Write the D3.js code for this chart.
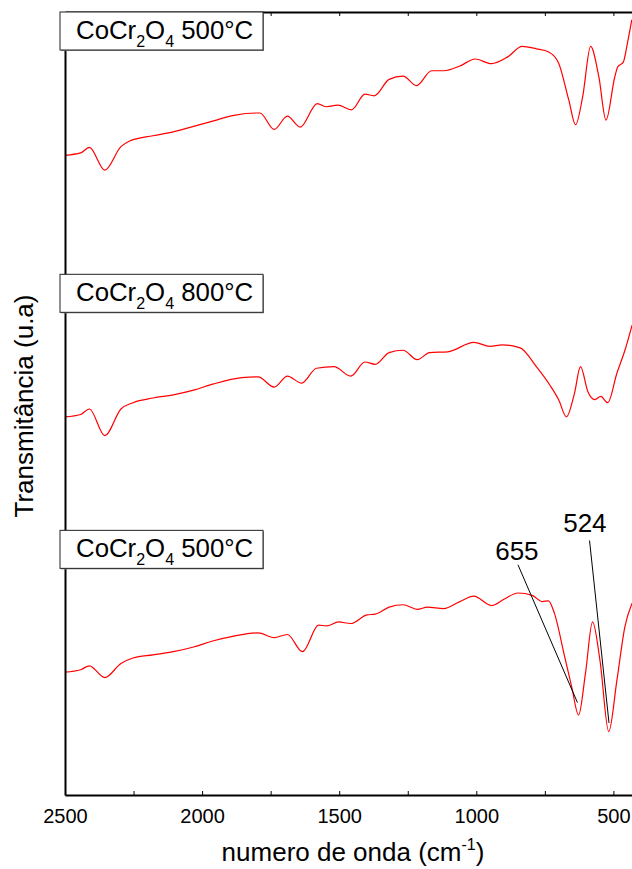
<!DOCTYPE html>
<html>
<head>
<meta charset="utf-8">
<script src="https://cdn.jsdelivr.net/npm/d3@7"></script>
<style>
  body { margin: 0; background: #fff; }
  text { font-family: "Liberation Sans", Arial, sans-serif; fill: #000; }
</style>
</head>
<body>
<svg id="svg" width="632" height="869"></svg>
<script>
// wavenumbers (cm-1) and transmittance (arbitrary, offset)
var wnTop = [2500,2443,2411,2355,2296,2266,2179,2105,2031,1958,1884,1803,1789,1737,1689,1642,1580,1546,1505,1455,1406,1372,1318,1267,1218,1163,1119,1060,1004,945,884,833,781,736,700,663,638,612,583,553,527,495,484,464,449,433];
var tTop = [81.7,82.0,82.7,79.8,82.8,83.5,84.2,84.7,85.4,86.1,86.8,87.1,87.1,85.0,86.7,85.3,88.3,87.9,88.1,87.5,89.5,89.3,91.4,91.8,90.6,92.5,92.5,93.1,94.0,93.4,94.3,95.6,95.3,94.9,93.5,88.8,85.6,89.2,95.6,91.7,86.2,91.7,93.0,93.6,96.0,99.0];

var wnMid = [2500,2443,2411,2355,2296,2252,2179,2105,2031,1958,1855,1796,1737,1689,1637,1583,1519,1458,1406,1369,1318,1267,1215,1171,1104,1009,950,906,840,781,729,700,671,642,620,593,568,546,521,487,458,432];
var tMid = [48.3,48.6,49.3,45.9,49.3,50.1,50.7,51.1,51.7,52.5,53.3,53.4,52.1,53.5,52.6,54.5,54.7,53.5,55.3,55.0,56.5,56.8,55.6,56.5,56.6,57.8,57.3,57.5,57.1,54.7,52.2,50.5,48.3,51.3,54.7,51.5,50.5,50.9,50.1,53.9,56.8,60.0];

var wnBot = [2500,2443,2411,2355,2296,2252,2179,2105,2031,1958,1884,1796,1737,1689,1634,1575,1546,1502,1458,1399,1369,1318,1267,1215,1178,1119,1060,1009,945,899,848,796,759,737,715,678,652,627,602,576,549,517,487,458,432];
var tBot = [15.7,16.0,16.5,15.0,16.8,17.5,17.9,18.3,18.9,19.7,20.3,20.7,20.1,20.5,18.3,21.7,21.6,22.1,21.9,23.0,23.1,24.0,24.3,23.7,24.0,23.8,24.7,25.4,24.2,25.0,25.8,25.5,24.7,24.8,23.2,17.7,13.8,10.2,15.5,22.1,17.2,8.1,14.7,21.5,24.5];

var temps = ["500°C", "800°C", "500°C"];
var labelTop = [100, 66.5, 33.8];

var tickVals = [2500,2250,2000,1750,1500,1250,1000,750,500];
var tickLabels = [2500,2000,1500,1000,500];

var peaks = ["655", "524"];
var peakText = [[852, 30.0], [604, 33.6]];
var peakLine = [[848, 29.4, 631, 11.8], [587, 32.5, 516, 9.2]];

var svg = d3.select("#svg"),
  mLeft = 65,
  mTop = 12,
  mBottom = 795,
  x = d3.scaleLinear().domain([2500, 400]).range([mLeft, mLeft + 2100 * 0.2742]),
  y = d3.scaleLinear().domain([0, 100]).range([mBottom, mTop]);

svg.append("rect").attr("width", 632).attr("height", 869).attr("fill", "#fff");

var line = d3.line()
  .x(function (d) { return x(d[0]); })
  .y(function (d) { return y(d[1]); })
  .curve(d3.curveMonotoneX);

[[wnTop, tTop], [wnMid, tMid], [wnBot, tBot]].forEach(function (s) {
  svg.append("path")
    .datum(d3.zip(s[0], s[1]))
    .attr("fill", "none")
    .attr("stroke", "#ff0000")
    .attr("stroke-width", 1.2)
    .attr("d", line);
});

// axes
var gx = svg.append("g")
  .attr("transform", "translate(0," + mBottom + ")")
  .call(d3.axisBottom(x).tickValues(tickVals).tickSize(-4).tickPadding(14).tickSizeOuter(0)
    .tickFormat(function (d) { return tickLabels.indexOf(d) >= 0 ? d : ""; }));
gx.selectAll("text").style("font-size", "20px").style("font-family", "Liberation Sans, Arial, sans-serif");

svg.append("g")
  .attr("transform", "translate(0," + mTop + ")")
  .call(d3.axisTop(x).tickValues(tickVals).tickSize(-4).tickSizeOuter(0).tickFormat(""));

svg.append("g")
  .attr("transform", "translate(" + mLeft + ",0)")
  .call(d3.axisLeft(y).tickValues([]).tickSizeOuter(0));

svg.selectAll(".domain").attr("stroke", "#000").attr("stroke-width", 2);
svg.selectAll(".tick line").attr("stroke", "#000").attr("stroke-width", 1);

// sample label boxes
temps.forEach(function (t, i) {
  var g = svg.append("g").attr("transform", "translate(" + (mLeft - 5) + "," + y(labelTop[i]) + ")");
  g.append("rect").attr("x", 1).attr("y", 1).attr("width", 203).attr("height", 38).attr("fill", "#888");
  g.append("rect").attr("width", 203).attr("height", 38).attr("fill", "#fff")
    .attr("stroke", "#222").attr("stroke-width", 1);
  var tx = g.append("text").attr("x", 16).attr("y", 27).style("font-size", "25.8px");
  tx.append("tspan").text("CoCr");
  tx.append("tspan").attr("dy", 8).style("font-size", "16px").text("2");
  tx.append("tspan").attr("dy", -8).text("O");
  tx.append("tspan").attr("dy", 8).style("font-size", "16px").text("4");
  tx.append("tspan").attr("dy", -8).text(" " + t);
});

// peak annotations
peaks.forEach(function (p, i) {
  svg.append("line")
    .attr("x1", x(peakLine[i][0])).attr("y1", y(peakLine[i][1]))
    .attr("x2", x(peakLine[i][2])).attr("y2", y(peakLine[i][3]))
    .attr("stroke", "#000").attr("stroke-width", 1);
  svg.append("text")
    .attr("x", x(peakText[i][0])).attr("y", y(peakText[i][1]))
    .attr("text-anchor", "middle")
    .style("font-size", "26px")
    .text(p);
});

// axis titles
var xt = svg.append("text")
  .attr("x", 353).attr("y", 861)
  .attr("text-anchor", "middle")
  .style("font-size", "26px");
xt.append("tspan").text("numero de onda (cm");
xt.append("tspan").attr("dy", -11).style("font-size", "16px").text("-1");
xt.append("tspan").attr("dy", 11).text(")");

svg.append("text")
  .attr("transform", "translate(33,406) rotate(-90)")
  .attr("text-anchor", "middle")
  .style("font-size", "26px")
  .text("Transmitância (u.a)");
</script>
</body>
</html>
